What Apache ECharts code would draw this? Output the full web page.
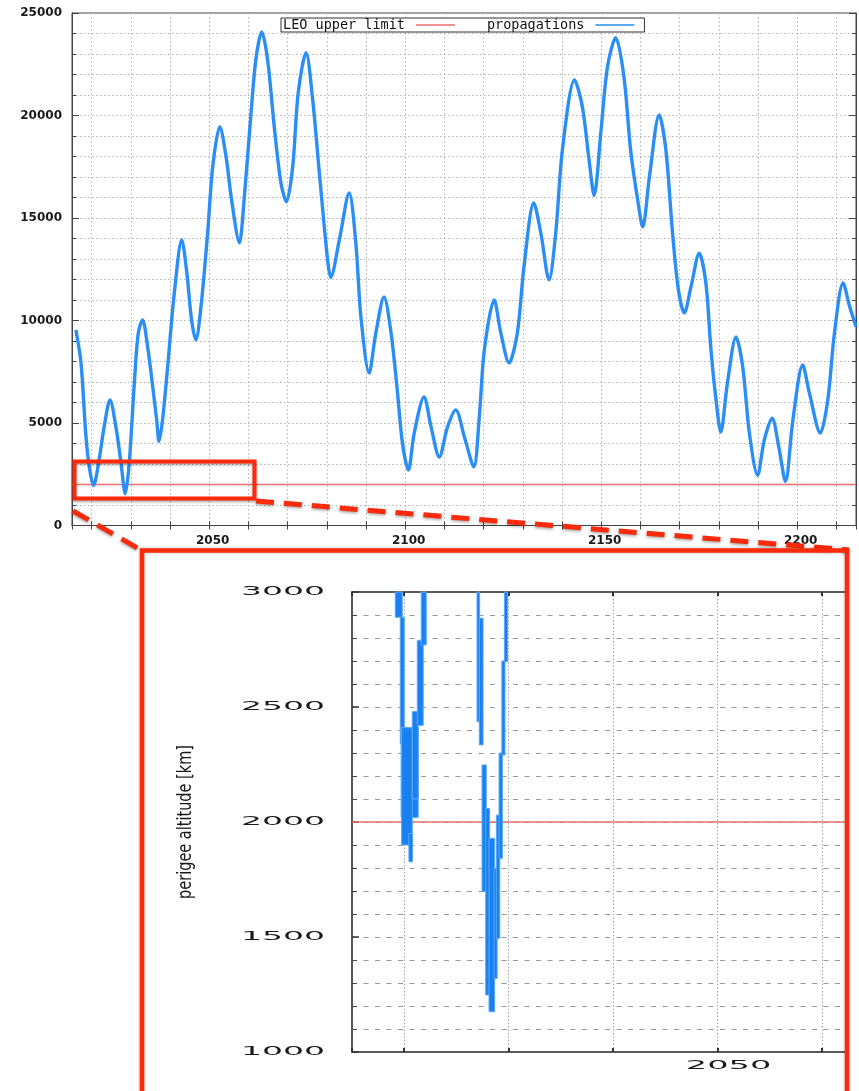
<!DOCTYPE html>
<html>
<head>
<meta charset="utf-8">
<script src="https://cdn.jsdelivr.net/npm/echarts@6/dist/echarts.min.js"></script>
<style>
html,body{margin:0;padding:0;background:#fff;}
#chart{width:859px;height:1091px;}
</style>
</head>
<body>
<div id="chart"></div>
<script>
// ---- data ----
const years = [2016.0,2017.3,2018.5,2019.4,2020.5,2021.9,2023.2,2024.7,2026.2,2027.5,2028.6,2029.6,2030.9,2031.9,2033.0,2034.3,2035.6,2036.6,2037.2,2038.1,2039.4,2041.1,2043.0,2044.3,2045.5,2046.6,2047.9,2049.6,2050.9,2052.7,2054.3,2055.7,2057.7,2058.9,2060.6,2061.9,2063.4,2064.9,2066.6,2068.3,2069.7,2071.3,2072.7,2074.7,2076.4,2078.1,2080.2,2081.0,2083.2,2085.7,2087.4,2088.7,2090.8,2092.5,2094.6,2096.4,2097.9,2099.3,2100.8,2102.3,2104.8,2106.6,2108.7,2110.8,2112.9,2115.1,2117.5,2118.9,2120.2,2122.7,2124.4,2126.5,2128.6,2130.3,2132.8,2134.6,2136.7,2138.4,2140.1,2143.2,2145.2,2146.9,2148.2,2149.9,2151.6,2153.7,2155.8,2157.5,2159.3,2160.6,2162.3,2164.8,2166.5,2168.2,2169.7,2171.2,2172.9,2175.0,2176.7,2178.0,2179.3,2180.5,2182.2,2184.4,2186.1,2187.8,2189.9,2191.6,2193.6,2195.3,2197.0,2198.9,2201.4,2203.1,2205.9,2207.8,2209.5,2211.7,2213.4,2215.0];
const perigee = [9540,7930,4500,2860,1950,3200,4810,6120,4810,3050,1550,3050,6950,9380,10030,8710,6760,5150,4100,5150,7740,11340,13930,12320,10030,9050,10670,14270,17500,19450,17990,15890,13790,15890,19940,22720,24080,22720,19450,16710,15790,17500,21100,23060,20760,17200,12960,12100,13930,16220,13790,10180,7440,9380,11150,9380,6760,4020,2710,4510,6270,4810,3340,4810,5640,4320,2860,5300,8570,11000,9380,7930,9380,12620,15740,14270,11980,14270,18320,21740,20420,17840,16100,19150,22370,23800,21890,18320,15890,14570,17010,20030,18320,14270,11490,10370,11640,13280,11830,8570,6120,4560,6950,9200,7740,4510,2450,4170,5240,3830,2150,5150,7830,6470,4510,6120,9380,11830,10670,9700];
const leoYears = [2015, 2215];
const leoLimit = [2000, 2000];
// zoomed inset: blocks of the propagation band (year start, year end, low, high)
const insetStart = [2019.14,2019.62,2019.70,2019.75,2020.45,2020.77,2021.25,2021.63, 2026.97,2027.19,2027.45,2027.80,2028.12,2028.60,2028.82,2029.08,2029.35,2029.60];
const insetEnd   = [2019.81,2020.00,2021.34,2020.77,2020.80,2021.34,2021.82,2022.11, 2027.22,2027.55,2027.86,2028.18,2028.66,2028.90,2029.15,2029.40,2029.65,2029.90];
const insetLow   = [2890,2340,2020,1900,1827,2100,2420,2770, 2436,2335,1697,1248,1175,1320,1494,1842,2291,2697];
const insetHigh  = [3050,2890,2410,2410,1950,2480,2790,3050, 3050,2886,2248,2059,1929,1798,2030,2300,2700,3050];
const mainYLabels = [0, 5000, 10000, 15000, 20000, 25000];
const mainXLabels = [2050, 2100, 2150, 2200];
const insetYLabels = [1000, 1500, 2000, 2500, 3000];
const insetXLabels = [2050];

const BLUE = '#2a8ef5';
const INSET_BLUE = '#1a7ff0';
const LRED = '#e87070';
const RED = '#ff2a0a';
const GRID = '#b4b4b4';
const lblFont = { fontFamily: 'DejaVu Sans', fontWeight: 'bold', fontSize: 12, color: '#1a1a1a' };

const chart = echarts.init(document.getElementById('chart'));

const propData = years.map((y, i) => [y, perigee[i]]);
const leoData = leoYears.map((y, i) => [y, leoLimit[i]]);
const insetData = insetStart.map((s, i) => [s, insetEnd[i], insetLow[i], insetHigh[i]]);

const axisLine = { show: true, lineStyle: { color: '#444', width: 1 } };

const option = {
  animation: false,
  backgroundColor: '#fff',
  grid: [
    { left: 72, top: 13, width: 784, height: 512.5, show: true, borderColor: '#444', borderWidth: 1, backgroundColor: '#fff' },
    { left: 352, top: 592, width: 494, height: 460, show: true, borderColor: '#444', borderWidth: 1.2, backgroundColor: '#fff' }
  ],
  legend: {
    data: ['LEO upper limit', 'propagations'],
    left: 281, top: 18,
    orient: 'horizontal',
    align: 'right',
    icon: 'rect',
    itemWidth: 39, itemHeight: 1.5, itemGap: 32,
    padding: [0, 10, 0, 2],
    borderColor: '#333', borderWidth: 1, borderRadius: 0,
    backgroundColor: '#fff',
    textStyle: { fontFamily: 'DejaVu Sans Mono', fontSize: 13.5, color: '#111', lineHeight: 14, padding: [0, 6, 0, 0] },
    selectedMode: false
  },
  xAxis: [
    { type: 'value', gridIndex: 0, min: 2015, max: 2215, splitNumber: 20,
      axisLine: axisLine,
      axisTick: { show: true, inside: true, length: 4, lineStyle: { color: '#444' } },
      axisLabel: Object.assign({ margin: 9, padding: [0, 0, 0, 7],
        formatter: v => (mainXLabels.indexOf(v) >= 0 ? String(v) : '') }, lblFont),
      splitLine: { show: true, lineStyle: { color: GRID, type: [1.5, 2.5], width: 1 } } },
    { type: 'value', gridIndex: 0, position: 'top', min: 2015, max: 2215, splitNumber: 20,
      axisLine: axisLine,
      axisTick: { show: true, inside: true, length: 4, lineStyle: { color: '#444' } },
      axisLabel: { show: false }, splitLine: { show: false } },
    { type: 'value', gridIndex: 1, min: 2015, max: 2062.3,
      axisLine: { show: true, lineStyle: { color: '#444', width: 1.5 } },
      axisTick: { show: true, inside: true, length: 4, lineStyle: { color: '#333', width: 2 } },
      axisLabel: { show: false },
      splitLine: { show: true, lineStyle: { color: '#aaa', type: [1.5, 2], width: 1.2 } } },
    { type: 'value', gridIndex: 1, position: 'top', min: 2015, max: 2062.3,
      axisLine: { show: true, lineStyle: { color: '#444', width: 1.5 } },
      axisTick: { show: true, inside: true, length: 4, lineStyle: { color: '#333', width: 2 } },
      axisLabel: { show: false }, splitLine: { show: false } }
  ],
  yAxis: [
    { type: 'value', gridIndex: 0, min: 0, max: 25000, interval: 5000,
      axisLine: axisLine,
      axisTick: { show: true, inside: true, length: 7, lineStyle: { color: '#444' } },
      minorTick: { show: true, splitNumber: 5, length: 4, lineStyle: { color: '#444' } },
      axisLabel: Object.assign({ margin: 10, formatter: v => (mainYLabels.indexOf(v) >= 0 ? String(v) : '') }, lblFont),
      splitLine: { show: true, lineStyle: { color: GRID, type: [1.5, 2.5], width: 1 } },
      minorSplitLine: { show: true, lineStyle: { color: GRID, type: [1.5, 2.5], width: 1 } } },
    { type: 'value', gridIndex: 0, position: 'right', min: 0, max: 25000, interval: 5000,
      axisLine: axisLine,
      axisTick: { show: true, inside: true, length: 7, lineStyle: { color: '#444' } },
      minorTick: { show: true, splitNumber: 5, length: 4, lineStyle: { color: '#444' } },
      axisLabel: { show: false }, splitLine: { show: false } },
    { type: 'value', gridIndex: 1, min: 1000, max: 3000, interval: 500,
      axisLine: { show: true, lineStyle: { color: '#444', width: 1.5 } },
      axisTick: { show: true, inside: true, length: 7, lineStyle: { color: '#333', width: 1.5 } },
      minorTick: { show: true, splitNumber: 5, length: 5, lineStyle: { color: '#444' } },
      axisLabel: { show: false },
      splitLine: { show: true, lineStyle: { color: '#999', type: [5, 6.5], width: 1 } },
      minorSplitLine: { show: true, lineStyle: { color: '#999', type: [5, 6.5], width: 1 } } }
  ],
  series: [
    { name: 'LEO upper limit', type: 'line', xAxisIndex: 0, yAxisIndex: 0, data: leoData,
      symbol: 'none', color: LRED, lineStyle: { color: LRED, width: 1.3 }, z: 3 },
    { name: 'propagations', type: 'line', xAxisIndex: 0, yAxisIndex: 0, data: propData,
      symbol: 'none', smooth: 0.3, color: BLUE, lineStyle: { color: BLUE, width: 3.4 }, z: 4 },
    { name: 'LEO upper limit', type: 'line', xAxisIndex: 2, yAxisIndex: 2, data: leoData,
      symbol: 'none', color: LRED, lineStyle: { color: LRED, width: 1.3 }, z: 3 },
    { name: 'propagations', type: 'custom', xAxisIndex: 2, yAxisIndex: 2, data: insetData,
      encode: { x: [0, 1], y: [2, 3] }, z: 4,
      renderItem: function (params, api) {
        const p0 = api.coord([api.value(0), api.value(3)]);
        const p1 = api.coord([api.value(1), api.value(2)]);
        const cs = params.coordSys;
        const r = echarts.graphic.clipRectByRect(
          { x: p0[0], y: p0[1], width: p1[0] - p0[0], height: p1[1] - p0[1] },
          { x: cs.x, y: cs.y, width: cs.width, height: cs.height });
        return r && { type: 'rect', shape: r, style: { fill: INSET_BLUE, stroke: '#5aaaf7', lineWidth: 1 } };
      } }
  ]
};
chart.setOption(option);

// ---- annotations: zoom frame, connectors, stretched inset labels ----
const gfx = [];
gfx.push({ type: 'rect', z: 100, shape: { x: 74.5, y: 461.5, width: 180, height: 37 },
  style: { fill: 'none', stroke: RED, lineWidth: 4, shadowBlur: 3, shadowColor: 'rgba(0,0,0,0.35)', shadowOffsetY: 1.5 } });
gfx.push({ type: 'line', z: 100, shape: { x1: 256, y1: 501, x2: 849, y2: 550 },
  style: { stroke: RED, lineWidth: 5, lineDash: [18, 10], shadowBlur: 3, shadowColor: 'rgba(0,0,0,0.35)', shadowOffsetY: 1.5 } });
gfx.push({ type: 'line', z: 100, shape: { x1: 73, y1: 511, x2: 141, y2: 550 },
  style: { stroke: RED, lineWidth: 5, lineDash: [18, 10], shadowBlur: 3, shadowColor: 'rgba(0,0,0,0.35)', shadowOffsetY: 1.5 } });
gfx.push({ type: 'rect', z: 100, shape: { x: 142, y: 550.5, width: 705, height: 600 },
  style: { fill: 'none', stroke: RED, lineWidth: 4.5, shadowBlur: 3, shadowColor: 'rgba(0,0,0,0.3)' } });

const insetFont = 'normal 12px "DejaVu Sans"';
insetYLabels.forEach(v => {
  const py = chart.convertToPixel({ yAxisIndex: 2 }, v);
  gfx.push({ type: 'text', z: 101, x: 325, y: py, scaleX: 2.75,
    style: { text: String(v), font: insetFont, fill: '#1a1a1a', align: 'right', verticalAlign: 'middle',
             textAlign: 'right', textVerticalAlign: 'middle' } });
});
insetXLabels.forEach(v => {
  const px = chart.convertToPixel({ xAxisIndex: 2 }, v);
  gfx.push({ type: 'text', z: 101, x: px + 11, y: 1066, scaleX: 2.8,
    style: { text: String(v), font: insetFont, fill: '#1a1a1a', align: 'center', verticalAlign: 'middle',
             textAlign: 'center', textVerticalAlign: 'middle' } });
});
gfx.push({ type: 'text', z: 101, x: 186, y: 822, rotation: Math.PI / 2, scaleY: 1.3,
  style: { text: 'perigee altitude [km]', font: 'normal 14.5px "DejaVu Sans"', fill: '#1a1a1a',
           align: 'center', verticalAlign: 'middle', textAlign: 'center', textVerticalAlign: 'middle' } });

chart.setOption({ graphic: { elements: gfx } });
</script>
</body>
</html>
